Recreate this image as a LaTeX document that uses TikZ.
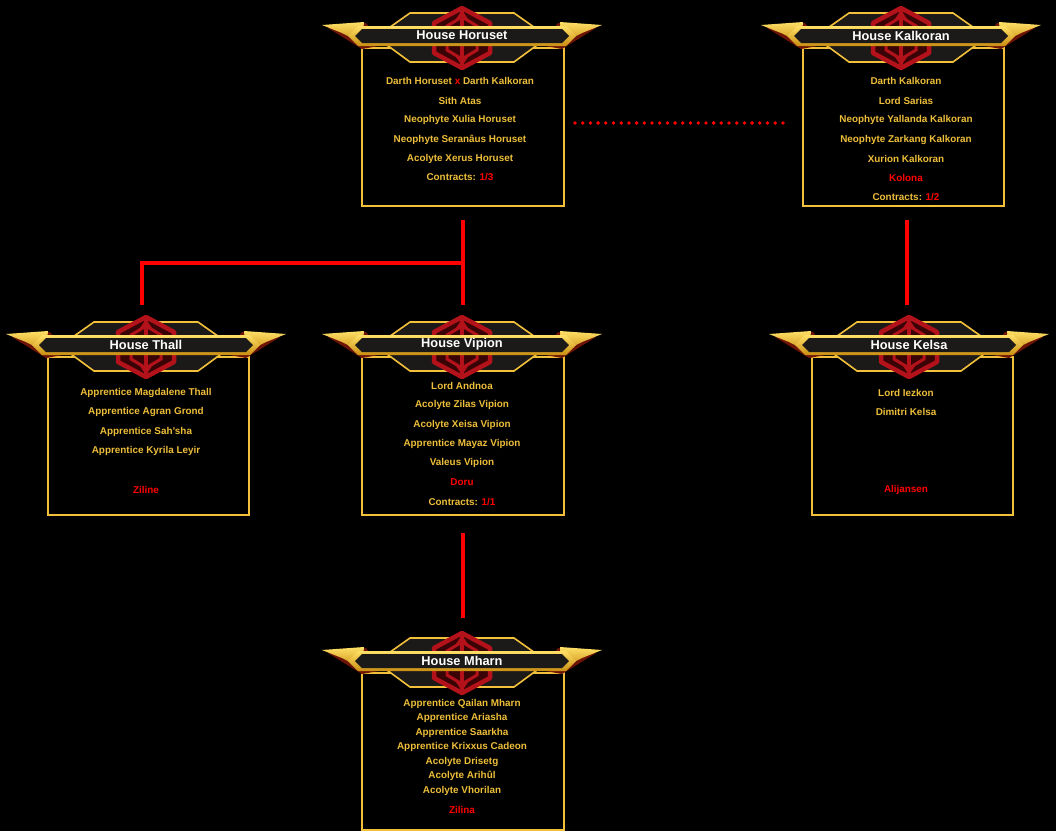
\documentclass[tikz,border=0pt]{standalone}
\usepackage{fontspec}
\setmainfont{Liberation Sans}
\definecolor{goldtxt}{HTML}{EDBE3A}
\definecolor{goldbox}{HTML}{F2C03A}
\definecolor{goldlt}{HTML}{FFE066}
\definecolor{golddk}{HTML}{C98E12}
\definecolor{embred}{HTML}{B3121B}
\definecolor{embdark}{HTML}{3A0406}
\definecolor{wingred}{HTML}{6E1406}
\definecolor{pilldark}{HTML}{1C1A18}
\definecolor{linered}{HTML}{FF0000}
\tikzset{
  mem/.style={text=goldtxt, font=\bfseries\fontsize{9.9}{11}\selectfont, inner sep=0pt},
  memred/.style={mem, text=linered},
  ttl/.style={text=white, font=\bfseries\fontsize{12.8}{14}\selectfont, inner sep=0pt},
  housebox/.style={draw=goldbox, line width=2pt, fill=black, anchor=north west, inner sep=0pt},
  conn/.style={draw=linered, line width=3.5pt},
  dotconn/.style={draw=linered, line width=3.8pt, line cap=round, dash pattern=on 0pt off 7.7pt},
}
\newcommand{\hdr}[4]{%
\begin{scope}[shift={(#2,#3)}]
  % dark red under-wings
  \fill[wingred] (-134,-7) -- (-96,-12) -- (-78,10) -- (-100,14) -- cycle;
  \fill[wingred] (134,-7) -- (96,-12) -- (78,10) -- (100,14) -- cycle;
  % gold wings
  \shade[top color=goldlt, bottom color=golddk] (-140,-10) -- (-98,-13) -- (-100,8) -- (-120,-2) -- cycle;
  \shade[top color=goldlt, bottom color=golddk] (140,-10) -- (98,-13) -- (100,8) -- (120,-2) -- cycle;
  % plate
  \filldraw[fill=pilldark, draw=goldbox, line width=1.6pt]
     (-52,-22) -- (52,-22) -- (86,2) -- (52,27) -- (-52,27) -- (-86,2) -- cycle;
  % emblem
  \filldraw[fill=embdark, draw=embred, line width=4.5pt, line join=round]
     (0,-27) -- (28,-12) -- (28,18) -- (0,33) -- (-28,18) -- (-28,-12) -- cycle;
  \draw[embred, line width=3pt] (0,-18) -- (15,-9) -- (15,15) -- (0,24) -- (-15,15) -- (-15,-9) -- cycle;
  \draw[embred, line width=4pt] (0,-24) -- (0,30);
  \fill[embred] (-6,-16) -- (0,-25) -- (6,-16) -- cycle;
  \fill[embred] (-6,22) -- (0,31) -- (6,22) -- cycle;
  % pill bar
  \shade[top color=goldlt, bottom color=golddk]
     (-114,1) -- (-104,-9) -- (104,-9) -- (114,1) -- (104,11) -- (-104,11) -- cycle;
  \fill[pilldark] (-107,1) -- (-100,-6) -- (100,-6) -- (107,1) -- (100,8) -- (-100,8) -- cycle;
\end{scope}
\node[ttl] (#1-title) at (#2,#3+0.5) {#4};
}
\begin{document}
\begin{tikzpicture}[x=1pt,y=-1pt]
\fill[black] (0,0) rectangle (1056,831);
\useasboundingbox (0,0) rectangle (1056,831);

% ---------- boxes ----------
\node[housebox, minimum width=202pt, minimum height=158pt] (horbox) at (361,47) {};
\node[housebox, minimum width=201pt, minimum height=158pt] (kalbox) at (802,47) {};
\node[housebox, minimum width=201pt, minimum height=158pt] (thabox) at (47,356) {};
\node[housebox, minimum width=202pt, minimum height=158pt] (vipbox) at (361,356) {};
\node[housebox, minimum width=201pt, minimum height=158pt] (kelbox) at (811,356) {};
\node[housebox, minimum width=202pt, minimum height=157pt] (mhabox) at (361,672) {};

% ---------- headers ----------
\hdr{hor}{462}{35}{House Horuset}
\hdr{kal}{901}{35}{House Kalkoran}
\hdr{tha}{146}{344}{House Thall}
\hdr{vip}{462}{344}{House Vipion}
\hdr{kel}{909}{344}{House Kelsa}
\hdr{mha}{462}{660}{House Mharn}

% ---------- Horuset ----------
\node[mem] (hor1) at (460,80.5) {Darth Horuset {\color{linered}x} Darth Kalkoran};
\node[mem] (hor2) at (460,100.5) {Sith Atas};
\node[mem] (hor3) at (460,119.5) {Neophyte Xulia Horuset};
\node[mem] (hor4) at (460,139.5) {Neophyte Seranâus Horuset};
\node[mem] (hor5) at (460,158.5) {Acolyte Xerus Horuset};
\node[mem] (hor6) at (460,177.5) {Contracts: {\color{linered}1/3}};

% ---------- Kalkoran ----------
\node[mem] (kal1) at (906,80.5) {Darth Kalkoran};
\node[mem] (kal2) at (906,100.5) {Lord Sarias};
\node[mem] (kal3) at (906,119.5) {Neophyte Yallanda Kalkoran};
\node[mem] (kal4) at (906,139.5) {Neophyte Zarkang Kalkoran};
\node[mem] (kal5) at (906,158.5) {Xurion Kalkoran};
\node[memred] (kal6) at (906,177.5) {Kolona};
\node[mem] (kal7) at (906,197.5) {Contracts: {\color{linered}1/2}};

% ---------- Thall ----------
\node[mem] (tha1) at (146,392.5) {Apprentice Magdalene Thall};
\node[mem] (tha2) at (146,411.5) {Apprentice Agran Grond};
\node[mem] (tha3) at (146,431.5) {Apprentice Sah’sha};
\node[mem] (tha4) at (146,450.5) {Apprentice Kyrila Leyir};
\node[memred] (tha5) at (146,489.5) {Ziline};

% ---------- Vipion ----------
\node[mem] (vip1) at (462,385.5) {Lord Andnoa};
\node[mem] (vip2) at (462,404.5) {Acolyte Zilas Vipion};
\node[mem] (vip3) at (462,424.5) {Acolyte Xeisa Vipion};
\node[mem] (vip4) at (462,443.5) {Apprentice Mayaz Vipion};
\node[mem] (vip5) at (462,462.5) {Valeus Vipion};
\node[memred] (vip6) at (462,482.5) {Doru};
\node[mem] (vip7) at (462,501.5) {Contracts: {\color{linered}1/1}};

% ---------- Kelsa ----------
\node[mem] (kel1) at (906,392.5) {Lord Iezkon};
\node[mem] (kel2) at (906,411.5) {Dimitri Kelsa};
\node[memred] (kel3) at (906,489.5) {Alijansen};

% ---------- Mharn ----------
\node[mem] (mha1) at (462,703.5) {Apprentice Qailan Mharn};
\node[mem] (mha2) at (462,717.5) {Apprentice Ariasha};
\node[mem] (mha3) at (462,732.5) {Apprentice Saarkha};
\node[mem] (mha4) at (462,746.5) {Apprentice Krixxus Cadeon};
\node[mem] (mha5) at (462,761.5) {Acolyte Drisetg};
\node[mem] (mha6) at (462,775.5) {Acolyte Arihûl};
\node[mem] (mha7) at (462,790.5) {Acolyte Vhorilan};
\node[memred] (mha8) at (462,809.5) {Zilina};

% ---------- connectors ----------
\coordinate (horS) at (463,220);
\coordinate (junc) at (463,263);
\coordinate (vipN) at (463,305);
\coordinate (thaN) at (142,305);
\coordinate (kalS) at (907,220);
\coordinate (kelN) at (907,305);
\coordinate (vipS) at (463,533);
\coordinate (mhaN) at (463,618);
\coordinate (dotL) at (575,123);
\coordinate (dotR) at (785,123);

\draw[conn] (horS) -- (vipN);
\draw[conn] (junc) -| (thaN);
\draw[conn] (kalS) -- (kelN);
\draw[conn] (vipS) -- (mhaN);
\draw[dotconn] (dotL) -- (dotR);
\end{tikzpicture}
\end{document}
